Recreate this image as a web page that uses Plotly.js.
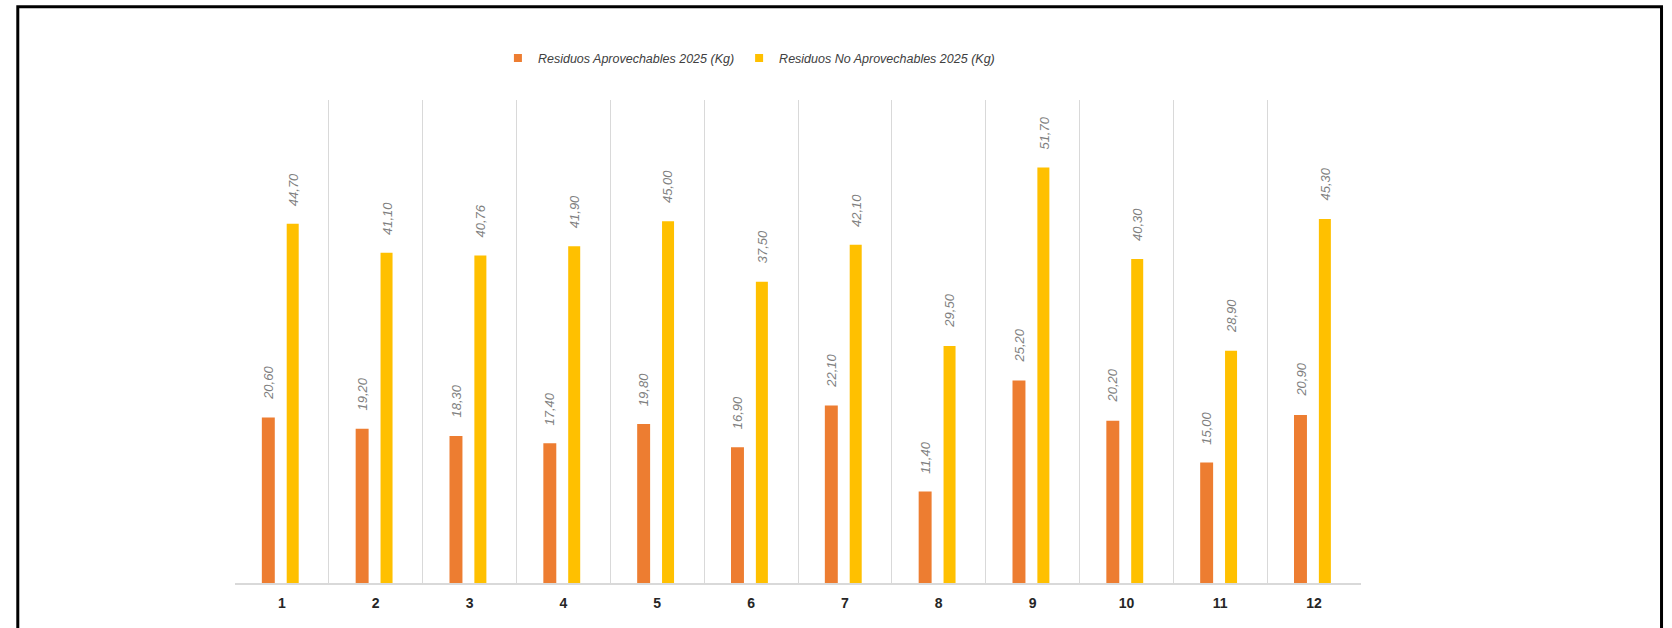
<!DOCTYPE html>
<html>
<head>
<meta charset="utf-8">
<script src="https://cdn.plot.ly/plotly-3.0.1.min.js"></script>
<style>
  html, body { margin: 0; padding: 0; background: #ffffff; }
  #chart { width: 1672px; height: 628px; }
</style>
</head>
<body>
<div id="chart"></div>
<script>
// ---- data ----
const categories = ['1', '2', '3', '4', '5', '6', '7', '8', '9', '10', '11', '12'];
const aprovechables = [20.60, 19.20, 18.30, 17.40, 19.80, 16.90, 22.10, 11.40, 25.20, 20.20, 15.00, 20.90];
const noAprovechables = [44.70, 41.10, 40.76, 41.90, 45.00, 37.50, 42.10, 29.50, 51.70, 40.30, 28.90, 45.30];
const seriesNames = ['Residuos Aprovechables 2025 (Kg)', 'Residuos No Aprovechables 2025 (Kg)'];

// ---- style ----
const colors = ['#ED7D31', '#FFC000'];
const fontFam = '"Liberation Sans Narrow", "Arial Narrow", "Liberation Sans", Arial, sans-serif';
const fmt = v => v.toFixed(2).replace('.', ',');

const traces = [
  {
    type: 'bar', x: categories, y: aprovechables, name: seriesNames[0],
    marker: { color: colors[0] }, width: 0.138, offset: -0.214,
    showlegend: false, hoverinfo: 'skip'
  },
  {
    type: 'bar', x: categories, y: noAprovechables, name: seriesNames[1],
    marker: { color: colors[1] }, width: 0.128, offset: 0.051,
    showlegend: false, hoverinfo: 'skip'
  },
  // legend entries
  {
    type: 'scatter', mode: 'markers', x: [null], y: [null], name: seriesNames[0],
    marker: { symbol: 'square', size: 8, color: colors[0] }
  },
  {
    type: 'scatter', mode: 'markers', x: [null], y: [null], name: seriesNames[1],
    marker: { symbol: 'square', size: 8, color: colors[1] }
  }
];

const labelFont = { family: fontFam, size: 13, color: '#7F7F7F' };
const annotations = [];
const series = [aprovechables, noAprovechables];
const shifts = [-13.5, 11];
series.forEach((vals, s) => {
  vals.forEach((v, i) => {
    annotations.push({
      x: i, y: v, xref: 'x', yref: 'y',
      text: '<i>' + fmt(v) + '</i>', showarrow: false,
      textangle: -90, yanchor: 'bottom', xanchor: 'center',
      xshift: shifts[s], yshift: 16, font: labelFont
    });
  });
});

const layout = {
  width: 1672, height: 628,
  margin: { l: 235, r: 311, t: 100, b: 45 },
  paper_bgcolor: '#ffffff', plot_bgcolor: '#ffffff',
  font: { family: fontFam },
  showlegend: true,
  legend: {
    orientation: 'h', x: 0.2335, xanchor: 'left', y: 1.086, yanchor: 'middle',
    font: { family: fontFam, size: 12.5, color: '#404040', style: 'italic' },
    bgcolor: 'rgba(0,0,0,0)', itemclick: false, itemdoubleclick: false
  },
  xaxis: {
    type: 'category', tickson: 'boundaries', range: [-0.5, 11.5],
    showgrid: true, gridcolor: '#D9D9D9', gridwidth: 1,
    showline: true, linecolor: '#D9D9D9', linewidth: 1.5,
    ticks: '', zeroline: false, fixedrange: true,
    tickfont: { family: fontFam, size: 14, color: '#262626', weight: 'bold' },
    ticklabelstandoff: 7
  },
  yaxis: {
    range: [0, 60.1], visible: false, showgrid: false, zeroline: false, fixedrange: true
  },
  annotations: annotations,
  shapes: [{
    type: 'path', xref: 'paper', yref: 'paper', layer: 'above',
    path: 'M -0.1929,-0.3 L -0.1929,1.1932 L 1.2669,1.1932 L 1.2669,-0.3',
    line: { color: '#000000', width: 3 }
  }]
};

Plotly.newPlot('chart', traces, layout, { displayModeBar: false, staticPlot: true });
</script>
</body>
</html>
